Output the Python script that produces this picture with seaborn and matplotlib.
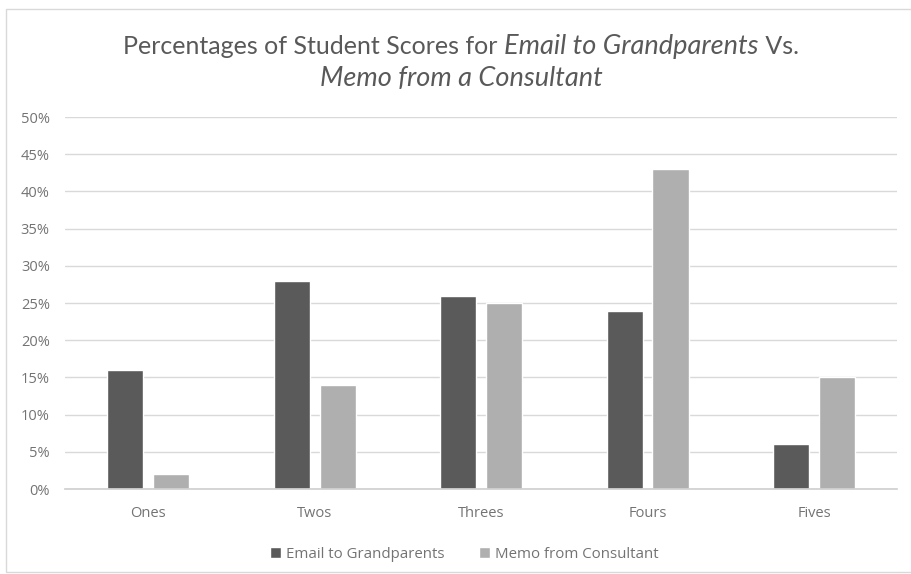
import pandas as pd
import seaborn as sns
import matplotlib
matplotlib.use("Agg")
import matplotlib.pyplot as plt
from matplotlib.offsetbox import TextArea, HPacker, VPacker, AnchoredOffsetbox
from matplotlib.ticker import PercentFormatter
from matplotlib.patches import Rectangle

categories = ["Ones", "Twos", "Threes", "Fours", "Fives"]
email_scores = [0.16, 0.28, 0.26, 0.24, 0.06]
memo_scores = [0.02, 0.14, 0.25, 0.43, 0.15]
series_names = ["Email to Grandparents", "Memo from Consultant"]

df = pd.DataFrame({
    "category": categories * 2,
    "value": email_scores + memo_scores,
    "series": [series_names[0]] * 5 + [series_names[1]] * 5,
})

sns.set_theme(style="white")
plt.rcParams["font.family"] = ["Open Sans", "DejaVu Sans"]

text_col = "#595959"
tick_col = "#737373"
fig = plt.figure(figsize=(9.11, 5.74), dpi=100)
ax = fig.add_axes([0.0714, 0.148, 0.9136, 0.648])

sns.barplot(data=df, x="category", y="value", hue="series",
            palette=["#5a5a5a", "#afafaf"], width=0.55, gap=0.21,
            saturation=1, ax=ax, legend=True)

ax.set_ylim(0, 0.5)
ax.set_yticks([i * 0.05 for i in range(11)])
ax.yaxis.set_major_formatter(PercentFormatter(1.0, decimals=0))
ax.set_xlim(-0.5, 4.5)
ax.grid(axis="y", color="#d9d9d9", linewidth=1)
ax.set_axisbelow(True)
for s in ["top", "right", "left"]:
    ax.spines[s].set_visible(False)
ax.spines["bottom"].set_color("#d0d0d0")
ax.set_xlabel("")
ax.set_ylabel("")
ax.tick_params(axis="x", length=0, labelsize=10.5, labelcolor=tick_col, pad=12)
ax.tick_params(axis="y", length=0, labelsize=10.5, labelcolor=tick_col, pad=11)

handles, labels = ax.get_legend_handles_labels()
ax.legend(handles, labels, loc="center", bbox_to_anchor=(0.48, -0.175),
          ncol=2, frameon=False, fontsize=10.8, labelcolor=tick_col,
          handlelength=0.7, handleheight=0.7, handletextpad=0.35,
          columnspacing=2.3)

# title with italic segments
tfam = ["Lato", "DejaVu Sans"]
tprops = dict(fontsize=18, color=text_col, family=tfam)
iprops = dict(fontsize=19.5, color=text_col, style="italic", family=tfam)
line1 = HPacker(children=[
    TextArea("Percentages of Student Scores for ", textprops=tprops),
    TextArea("Email to Grandparents", textprops=iprops),
    TextArea(" Vs.", textprops=tprops),
], align="baseline", pad=0, sep=0)
line2 = TextArea("Memo from a Consultant", textprops=iprops)
title_box = VPacker(children=[line1, line2], align="center", pad=0, sep=5)
anchored = AnchoredOffsetbox(loc="upper center", child=title_box, pad=0,
                             frameon=False, bbox_to_anchor=(0.506, 0.94),
                             bbox_transform=fig.transFigure, borderpad=0)
fig.add_artist(anchored)

fig.patches.append(Rectangle((0.007, 0.004), 0.995, 0.98, transform=fig.transFigure,
                             fill=False, edgecolor="#d9d9d9", linewidth=1))

fig.savefig("out.png", dpi=100)
